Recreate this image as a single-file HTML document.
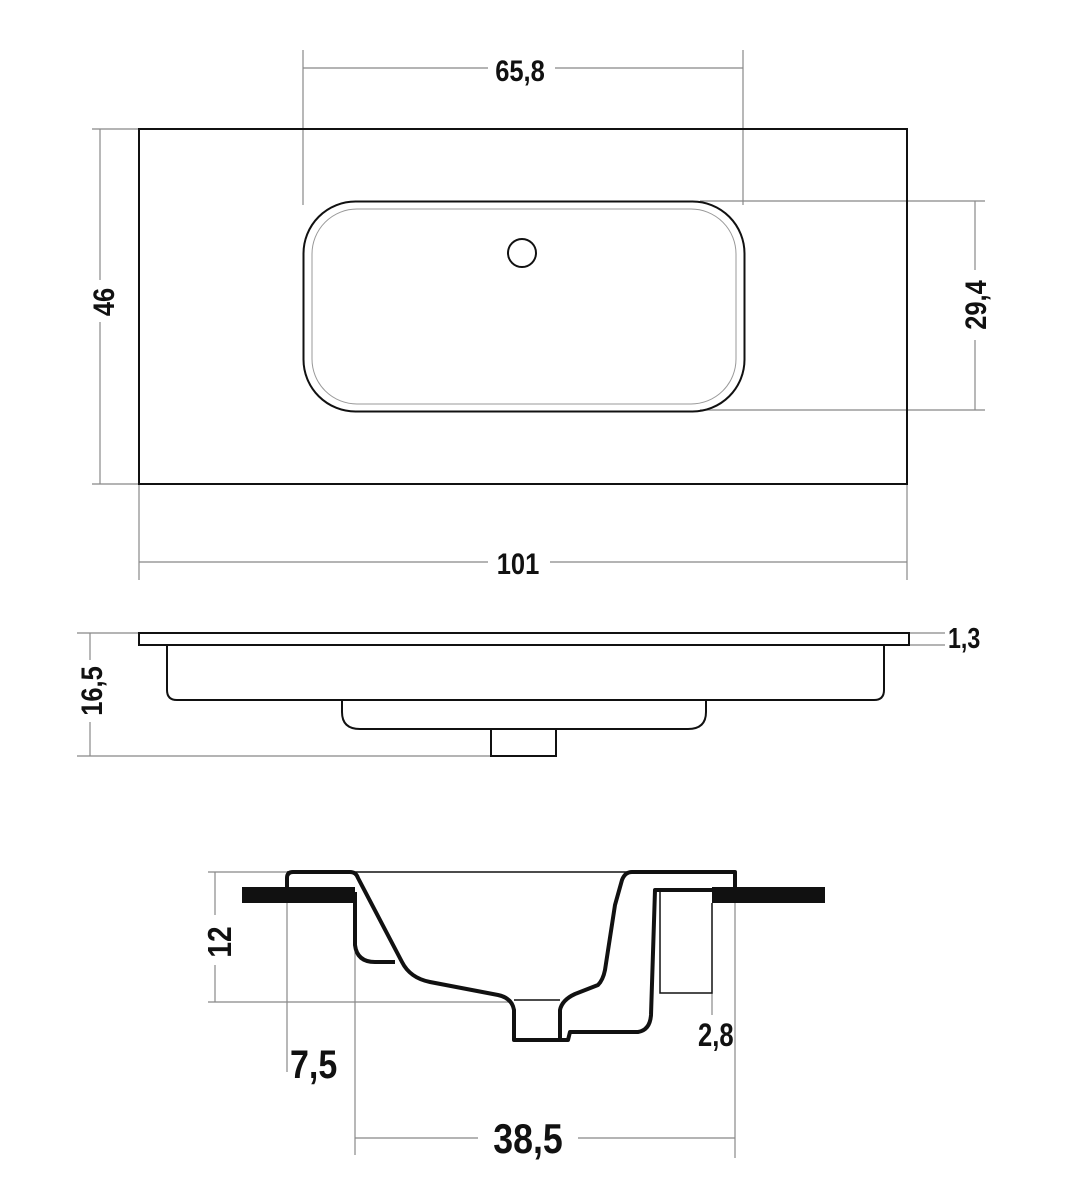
<!DOCTYPE html>
<html><head><meta charset="utf-8"><style>
html,body{margin:0;padding:0;background:#fff}
svg{display:block}
text{font-family:"Liberation Sans Narrow","Liberation Sans",sans-serif;font-weight:bold;fill:#111}
</style></head><body>
<svg width="1073" height="1200" viewBox="0 0 1073 1200" xmlns="http://www.w3.org/2000/svg">
<g fill="none" stroke="#888" stroke-width="1.2">
<line x1="303" y1="50" x2="303" y2="205"/><line x1="743" y1="50" x2="743" y2="205"/>
<line x1="303" y1="68" x2="488" y2="68"/><line x1="555" y1="68" x2="743" y2="68"/>
<line x1="92" y1="129" x2="139" y2="129"/><line x1="92" y1="484" x2="139" y2="484"/>
<line x1="100" y1="129" x2="100" y2="280"/><line x1="100" y1="322" x2="100" y2="484"/>
<line x1="700" y1="201" x2="985" y2="201"/><line x1="700" y1="410" x2="985" y2="410"/>
<line x1="975" y1="201" x2="975" y2="270"/><line x1="975" y1="340" x2="975" y2="410"/>
<line x1="139" y1="484" x2="139" y2="580"/><line x1="907" y1="484" x2="907" y2="580"/>
<line x1="139" y1="562" x2="488" y2="562"/><line x1="550" y1="562" x2="907" y2="562"/>
<line x1="77" y1="633" x2="139" y2="633"/><line x1="77" y1="756" x2="491" y2="756"/>
<line x1="90" y1="633" x2="90" y2="660"/><line x1="90" y1="722" x2="90" y2="756"/>
<line x1="909" y1="633" x2="945" y2="633"/><line x1="909" y1="645" x2="945" y2="645"/>
<line x1="208" y1="872" x2="290" y2="872"/><line x1="208" y1="1002" x2="512" y2="1002"/>
<line x1="215" y1="872" x2="215" y2="915"/><line x1="215" y1="965" x2="215" y2="1002"/>
<line x1="287" y1="880" x2="287" y2="1072"/><line x1="355" y1="903" x2="355" y2="1155"/>
<line x1="735" y1="872" x2="735" y2="1158"/>
<line x1="355" y1="1138" x2="478" y2="1138"/><line x1="578" y1="1138" x2="735" y2="1138"/>
<line x1="712" y1="993" x2="712" y2="1015"/>
</g>
<rect x="139" y="129" width="768" height="355" fill="none" stroke="#111" stroke-width="2"/>
<rect x="303.5" y="201.5" width="441" height="210" rx="52" fill="none" stroke="#111" stroke-width="2"/>
<rect x="312" y="209" width="424" height="195" rx="45" fill="none" stroke="#999" stroke-width="1"/>
<circle cx="522" cy="253" r="14" fill="none" stroke="#111" stroke-width="2"/>
<rect x="139" y="633" width="770" height="12" fill="none" stroke="#111" stroke-width="2"/>
<path d="M167 645 V690 Q167 700 177 700 H874 Q884 700 884 690 V645" fill="none" stroke="#111" stroke-width="2"/>
<path d="M342 700 V712 Q342 729 360 729 H688 Q706 729 706 712 V700" fill="none" stroke="#111" stroke-width="2"/>
<rect x="491" y="729" width="65" height="27" fill="none" stroke="#111" stroke-width="2"/>
<rect x="242" y="887" width="113" height="16" fill="#111"/>
<rect x="712" y="887" width="113" height="16" fill="#111"/>
<g fill="none" stroke="#111" stroke-width="4" stroke-linejoin="round">
<path d="M287 890 V878 Q287 872 293 872 H350 Q356 872 358 878 L402 962 Q410 978 430 982 L498 995 Q512 998 514 1010 V1040 H560 V1010 Q562 1000 575 994 L598 985 Q603 980 605 970 L615 905 L622 880 Q625 872 632 872 H735 V888"/>
<path d="M355 892 V945 Q357 962 375 962 H395"/>
<path d="M560 1040 H568 L570 1032 H638 Q650 1030 651 1015 L655 890 H712"/>
</g>
<g fill="none" stroke="#111" stroke-width="1.5">
<line x1="287" y1="872" x2="735" y2="872"/>
<path d="M660 890 V993 H712 V903"/>
<line x1="514" y1="1000" x2="560" y2="1000"/>
</g>
<text transform="translate(520,81) scale(0.85,1)" font-size="30" text-anchor="middle">65,8</text>
<text transform="translate(518,574) scale(0.85,1)" font-size="30" text-anchor="middle">101</text>
<text transform="translate(114,302) rotate(-90) scale(0.85,1)" font-size="30" text-anchor="middle">46</text>
<text transform="translate(986,305) rotate(-90) scale(0.85,1)" font-size="30" text-anchor="middle">29,4</text>
<text transform="translate(102,691) rotate(-90) scale(0.85,1)" font-size="30" text-anchor="middle">16,5</text>
<text transform="translate(948,648) scale(0.8,1)" font-size="29">1,3</text>
<text transform="translate(231,942) rotate(-90) scale(0.85,1)" font-size="33" text-anchor="middle">12</text>
<text transform="translate(290,1078) scale(0.85,1)" font-size="40">7,5</text>
<text transform="translate(528,1153) scale(0.85,1)" font-size="42" text-anchor="middle">38,5</text>
<text transform="translate(698,1046) scale(0.8,1)" font-size="32">2,8</text>
</svg>
</body></html>
